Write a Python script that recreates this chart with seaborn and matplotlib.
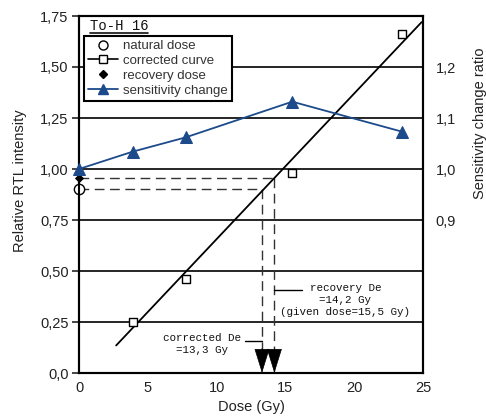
import matplotlib
matplotlib.use("Agg")
import matplotlib.pyplot as plt
import seaborn as sns
import numpy as np
import pandas as pd
from matplotlib.lines import Line2D
from matplotlib.ticker import FuncFormatter, FixedLocator

# ---------------- data ----------------
dose_corr = [3.9, 7.75, 15.5, 23.5]
rtl_corr = [0.25, 0.46, 0.98, 1.66]
fit_x = [2.7, 24.9]
fit_y = [0.135, 1.72]
natural_dose = [0.0]
natural_rtl = [0.90]
recovery_dose = [0.0]
recovery_rtl = [0.955]
sens_dose = [0.0, 3.9, 7.75, 15.5, 23.5]
sens_ratio = [1.00, 1.034, 1.062, 1.132, 1.073]
corrected_De = 13.3
recovery_De = 14.2
left_ticks = [0.0, 0.25, 0.50, 0.75, 1.00, 1.25, 1.50, 1.75]
right_ticks = [0.9, 1.0, 1.1, 1.2]
x_ticks = [0, 5, 10, 15, 20, 25]

sns.set_style("white")
plt.rcParams['font.family'] = ['Liberation Sans', 'DejaVu Sans']

fig = plt.figure(figsize=(4.86, 4.19), dpi=100)
ax = fig.add_axes([79/486, 1-373/419, 344/486, 357/419])
ax2 = ax.twinx()

BLUE = '#1c4a8a'

# grid lines
for v in left_ticks[1:-1]:
    ax.axhline(v, color='black', lw=1.2, zorder=1)

# fitted line
sns.lineplot(x=fit_x, y=fit_y, ax=ax, color='black', lw=1.3, zorder=3)

# dashed construction lines
dash = dict(color='#333333', lw=1.0, dashes=(7, 4), zorder=2)
ax.plot([0, corrected_De], [natural_rtl[0]]*2, **dash)
ax.plot([corrected_De, corrected_De], [natural_rtl[0], 0], **dash)
ax.plot([0, recovery_De], [recovery_rtl[0]]*2, **dash)
ax.plot([recovery_De, recovery_De], [recovery_rtl[0], 0], **dash)

# arrows
for xd in [corrected_De, recovery_De]:
    ax.annotate('', xy=(xd, 0.0), xytext=(xd, 0.12),
                arrowprops=dict(arrowstyle='-|>,head_length=0.9,head_width=0.28',
                                color='black', lw=0.5, mutation_scale=18,
                                shrinkA=0, shrinkB=0), zorder=5)

# points
df_corr = pd.DataFrame({'dose': dose_corr, 'rtl': rtl_corr})
sns.scatterplot(data=df_corr, x='dose', y='rtl', ax=ax, marker='s', s=40,
                facecolor='white', edgecolor='black', linewidth=1.0, zorder=6)
sns.scatterplot(x=natural_dose, y=natural_rtl, ax=ax, marker='o', s=55,
                facecolor='white', edgecolor='black', linewidth=1.0, zorder=7,
                clip_on=False)
sns.scatterplot(x=recovery_dose, y=recovery_rtl, ax=ax, marker='D', s=22,
                color='black', linewidth=0, zorder=7, clip_on=False)

# sensitivity change
sns.lineplot(x=sens_dose, y=sens_ratio, ax=ax2, color=BLUE, lw=1.3,
             marker='^', markersize=8, markeredgecolor=BLUE, zorder=5,
             clip_on=False)

# axes limits / ticks
ax.set_xlim(0, 25)
ax.set_ylim(0, 1.75)
ax2.set_ylim(0.6, 1.3)
ax.xaxis.set_major_locator(FixedLocator(x_ticks))
ax.yaxis.set_major_locator(FixedLocator(left_ticks))
ax2.yaxis.set_major_locator(FixedLocator(right_ticks))

def lfmt(v, p):
    if abs(v) < 1e-9:
        return '0,0'
    return f'{v:.2f}'.replace('.', ',')

ax.yaxis.set_major_formatter(FuncFormatter(lfmt))
ax2.yaxis.set_major_formatter(FuncFormatter(lambda v, p: f'{v:.1f}'.replace('.', ',')))

tick_col = '#222222'
ax.tick_params(axis='x', direction='in', length=5, width=1.2, pad=6,
               labelsize=10.5, labelcolor=tick_col)
ax.tick_params(axis='y', direction='out', length=5, width=1.2, pad=2.5,
               labelsize=10.5, labelcolor=tick_col, left=True)
ax2.tick_params(axis='y', direction='in', length=0, pad=9,
                labelsize=10.5, labelcolor=tick_col)

for a in (ax, ax2):
    for s in a.spines.values():
        s.set_color('black')
        s.set_linewidth(1.5)

ax.set_xlabel('Dose (Gy)', fontsize=10.5, color=tick_col, labelpad=3)
ax.set_ylabel('Relative RTL intensity', fontsize=10.5, color=tick_col, labelpad=6)
ax.yaxis.set_label_coords(-0.15, 0.54)
ax2.set_ylabel('Sensitivity change ratio', fontsize=10.5, color=tick_col, labelpad=8)
ax2.yaxis.set_label_coords(1.145, 0.70)

# title
ax.text(0.032, 0.972, 'To-H 16', transform=ax.transAxes, fontsize=10,
        family=['Liberation Mono', 'DejaVu Sans'], ha='left', va='center', color='#111111')
ax.plot([0.032, 0.2], [0.951, 0.951], transform=ax.transAxes, color='#111111', lw=1.2)

# annotations
mono = ['Liberation Mono', 'DejaVu Sans Mono']
ax.text(8.97, 0.14, 'corrected De\n=13,3 Gy', ha='center', va='center',
        fontsize=7.8, family=mono, linespacing=1.25, color='#111111')
ax.plot([12.05, corrected_De], [0.155, 0.155], color='black', lw=1.0)
ax.text(19.35, 0.36, 'recovery De\n=14,2 Gy\n(given dose=15,5 Gy)', ha='center',
        va='center', fontsize=7.8, family=mono, linespacing=1.25, color='#111111')
ax.plot([recovery_De, 16.2], [0.407, 0.407], color='black', lw=1.0)

# legend
handles = [
    Line2D([], [], ls='none', marker='o', mfc='white', mec='black', ms=6.5, mew=1.0),
    Line2D([], [], color='black', lw=1.2, marker='s', mfc='white', mec='black', ms=6, mew=1.0),
    Line2D([], [], ls='none', marker='D', color='black', ms=4.5),
    Line2D([], [], color=BLUE, lw=1.3, marker='^', ms=7.5),
]
labels = ['natural dose', 'corrected curve', 'recovery dose', 'sensitivity change']
leg = ax2.legend(handles, labels, loc='upper left', bbox_to_anchor=(0.0145, 0.944),
                 borderaxespad=0, fontsize=9.5, frameon=True, fancybox=False,
                 edgecolor='black', framealpha=1, handlelength=2.3,
                 handletextpad=0.35, labelspacing=0.2, borderpad=0.3)
leg.get_frame().set_linewidth(1.5)
for t in leg.get_texts():
    t.set_color('#333333')

fig.savefig('out.png', dpi=100)
